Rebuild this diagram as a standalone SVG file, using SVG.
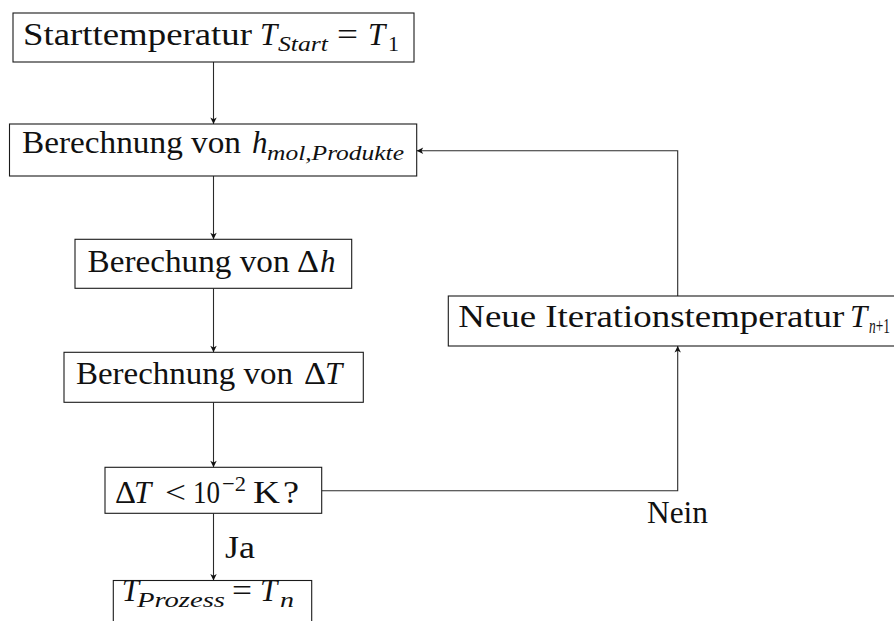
<svg xmlns="http://www.w3.org/2000/svg" width="894" height="621" viewBox="0 0 894 621">
  <style>
    .box { fill: #fff; stroke: #1a1a1a; stroke-width: 1.1; }
    .t { font-family: "Liberation Serif", "DejaVu Serif", serif; font-size: 31px; fill: #111; }
    .i { font-style: italic; }
    .s { font-size: 22px; }
    .edge { fill: none; stroke: #2a2a2a; stroke-width: 1.1; }
  </style>
  <defs>
    <marker id="arrow" markerUnits="userSpaceOnUse" viewBox="-8 -4 9 8" markerWidth="9" markerHeight="8" refX="0" refY="0" orient="auto" overflow="visible">
      <path d="M0,0 L-6.5,-3.2 L-4.8,0 L-6.5,3.2 Z" fill="#111"/>
    </marker>
  </defs>

  <g id="connectors">
    <path class="edge" d="M213.5,62 V124" marker-end="url(#arrow)"/>
    <path class="edge" d="M213.5,176 V239.3" marker-end="url(#arrow)"/>
    <path class="edge" d="M213.5,288.3 V352.3" marker-end="url(#arrow)"/>
    <path class="edge" d="M213.5,402.3 V467.3" marker-end="url(#arrow)"/>
    <path class="edge" d="M213.5,513.3 V580.5" marker-end="url(#arrow)"/>
    <path class="edge" d="M321.7,490.7 H677.7 V346" marker-end="url(#arrow)"/>
    <path class="edge" d="M677.7,296 V150.7 H416.7" marker-end="url(#arrow)"/>
    <text class="t" x="225" y="557.7" textLength="30" lengthAdjust="spacingAndGlyphs">Ja</text>
    <text class="t" x="647" y="523" textLength="61" lengthAdjust="spacingAndGlyphs">Nein</text>
  </g>

  <g id="start">
    <rect class="box" x="13" y="13" width="401" height="49"/>
    <text class="t" x="23" y="45" textLength="229" lengthAdjust="spacingAndGlyphs">Starttemperatur</text>
    <text class="t i" x="260" y="45">T</text>
    <text class="t i s" x="278" y="50.5" textLength="50" lengthAdjust="spacingAndGlyphs">Start</text>
    <text class="t" x="337" y="45" textLength="21" lengthAdjust="spacingAndGlyphs">=</text>
    <text class="t i" x="368" y="45">T</text>
    <text class="t s" x="388" y="50.5">1</text>
  </g>

  <g id="enthalpy">
    <rect class="box" x="9.5" y="124" width="407.2" height="52"/>
    <text class="t" x="22" y="153.3" textLength="219" lengthAdjust="spacingAndGlyphs">Berechnung von</text>
    <text class="t i" x="252" y="153.3">h</text>
    <text class="t i s" x="267" y="159.5" textLength="137" lengthAdjust="spacingAndGlyphs">mol,Produkte</text>
  </g>

  <g id="delta-h">
    <rect class="box" x="75" y="239.3" width="276.7" height="49"/>
    <text class="t" x="87.5" y="271.7" textLength="202" lengthAdjust="spacingAndGlyphs">Berechung von</text>
    <text class="t" x="297" y="271.7" textLength="22" lengthAdjust="spacingAndGlyphs">Δ</text>
    <text class="t i" x="320" y="271.7">h</text>
  </g>

  <g id="delta-t">
    <rect class="box" x="64" y="352.3" width="299.3" height="50"/>
    <text class="t" x="76" y="384.3" textLength="217" lengthAdjust="spacingAndGlyphs">Berechnung von</text>
    <text class="t" x="304" y="384.3" textLength="22" lengthAdjust="spacingAndGlyphs">Δ</text>
    <text class="t i" x="325" y="384.3">T</text>
  </g>

  <g id="check">
    <rect class="box" x="105" y="467.3" width="216.7" height="46"/>
    <text class="t" x="115" y="503.3" textLength="21" lengthAdjust="spacingAndGlyphs">Δ</text>
    <text class="t i" x="134" y="503.3">T</text>
    <text class="t" x="165" y="503.3" textLength="21" lengthAdjust="spacingAndGlyphs">&lt;</text>
    <text class="t" x="193" y="503.3" textLength="27" lengthAdjust="spacingAndGlyphs">10</text>
    <text class="t s" x="222" y="490.5" textLength="24" lengthAdjust="spacingAndGlyphs">−2</text>
    <text class="t" x="253" y="503.3" textLength="27" lengthAdjust="spacingAndGlyphs">K</text>
    <text class="t" x="283" y="503.3" textLength="16" lengthAdjust="spacingAndGlyphs">?</text>
  </g>

  <g id="result">
    <rect class="box" x="113.3" y="580.5" width="198.4" height="60"/>
    <text class="t i" x="121.7" y="600.7">T</text>
    <text class="t i s" x="137" y="607" textLength="88" lengthAdjust="spacingAndGlyphs">Prozess</text>
    <text class="t" x="232" y="600.7" textLength="20" lengthAdjust="spacingAndGlyphs">=</text>
    <text class="t i" x="260" y="600.7">T</text>
    <text class="t i s" x="280" y="607" textLength="14" lengthAdjust="spacingAndGlyphs">n</text>
  </g>

  <g id="next-iteration">
    <rect class="box" x="448.3" y="296" width="460" height="50"/>
    <text class="t" x="458.3" y="327" textLength="386" lengthAdjust="spacingAndGlyphs">Neue Iterationstemperatur</text>
    <text class="t i" x="850" y="327">T</text>
    <text class="t s" x="869" y="333" textLength="21" lengthAdjust="spacingAndGlyphs"><tspan class="i">n</tspan>+1</text>
  </g>
</svg>
